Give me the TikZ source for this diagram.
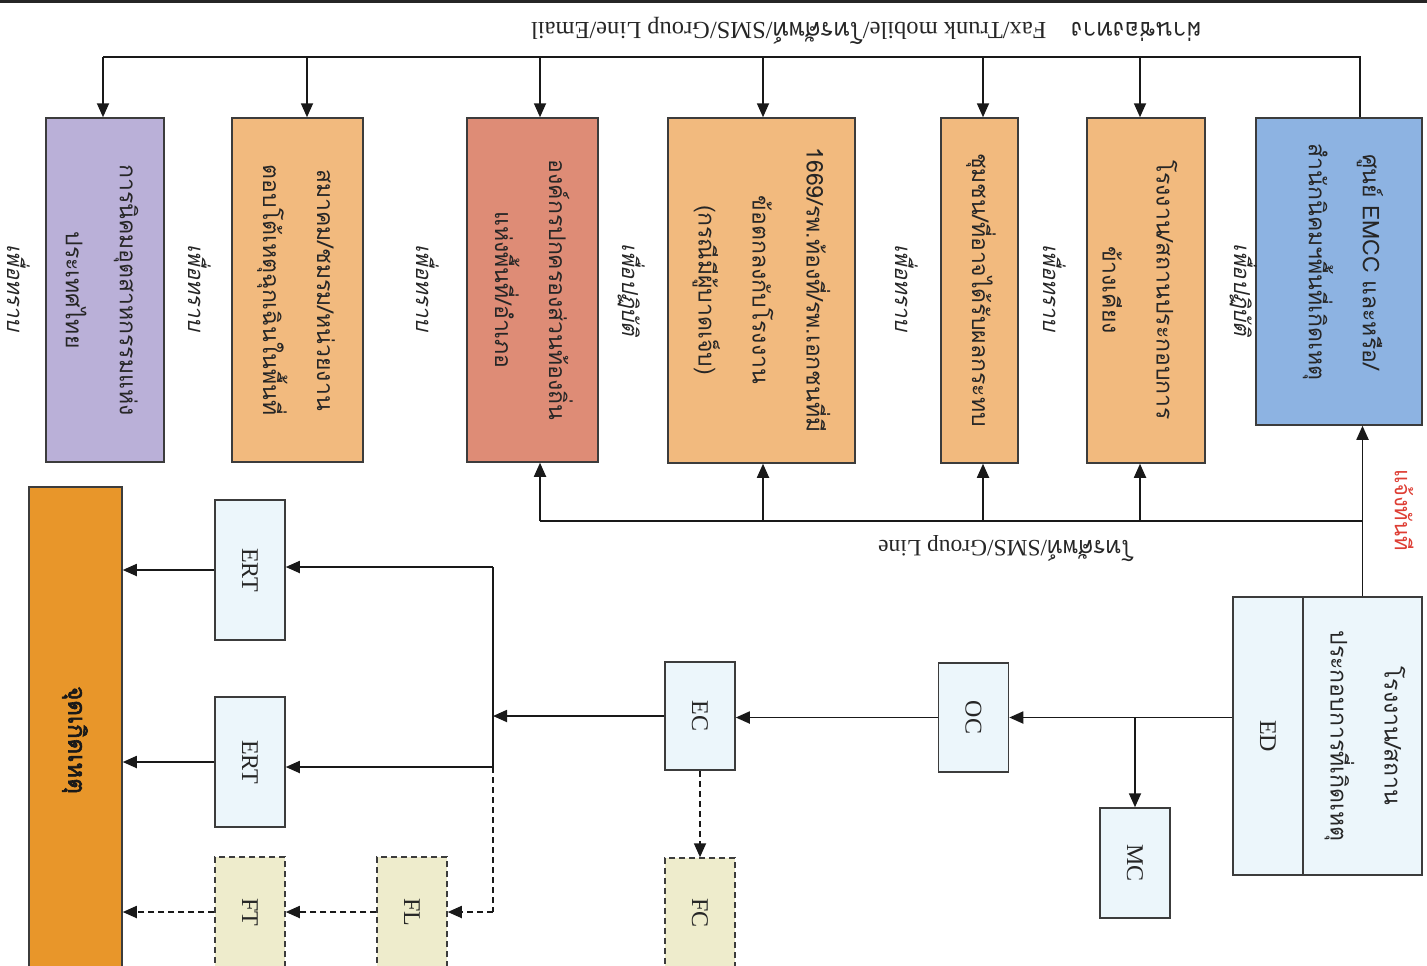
\documentclass[tikz,border=0pt]{standalone}
\usepackage{fontspec}
\setmainfont{Liberation Serif}
\newfontfamily\thai[Script=Thai]{Loma}
\newfontfamily\thaiit[Script=Thai,FakeSlant=0.22]{Loma}
\newfontfamily\thaibf[Script=Thai,FakeBold=2.5]{Loma}
\usetikzlibrary{arrows.meta}
\definecolor{cBlue}{RGB}{141,179,226}
\definecolor{cOrange}{RGB}{242,186,126}
\definecolor{cSalmon}{RGB}{222,140,118}
\definecolor{cPurple}{RGB}{186,176,216}
\definecolor{cLight}{RGB}{236,246,251}
\definecolor{cDash}{RGB}{238,236,204}
\definecolor{cInc}{RGB}{232,150,42}
\definecolor{cRedText}{RGB}{222,62,52}
\definecolor{cEdge}{RGB}{60,60,60}
\begin{document}
\begin{tikzpicture}[x=1pt,y=-1pt,
  box/.style={draw=cEdge,line width=1.5pt,inner sep=0pt},
  btxt/.style={rotate=-90,align=center,inner sep=1pt,
    font=\thai\fontsize{23}{54}\selectfont,text=black!85},
  sbox/.style={draw=cEdge,line width=1.5pt,inner sep=0pt,fill=cLight,minimum width=70pt},
  stxt/.style={rotate=-90,inner sep=1pt,font=\fontsize{24}{28}\selectfont,text=black!85},
  dbox/.style={sbox,fill=cDash,dash pattern=on 6pt off 4pt},
  lab/.style={font=\thaiit\fontsize{22}{26}\selectfont,text=black!85,rotate=-90,inner sep=1pt},
  ln/.style={line width=1.8pt,draw=black!90},
  arr/.style={ln,-{Triangle[length=14pt,width=12pt]}},
  darr/.style={arr,dash pattern=on 6pt off 4pt},
  dln/.style={ln,dash pattern=on 6pt off 4pt}]
\clip (0,0) rectangle (1427,966);
\useasboundingbox (0,0) rectangle (1427,966);
\fill[white] (0,0) rectangle (1427,966);
\fill[black!85] (0,0) rectangle (1427,3);

% upper row of boxes
\node[box,fill=cBlue,minimum width=166pt,minimum height=307pt] (emcc) at (1339,271.5) {};
\node[btxt] (emcct) at (1343,262) {ศูนย์ EMCC และหรือ/\\สำนักนิคมฯพื้นที่เกิดเหตุ};
\node[box,fill=cOrange,minimum width=118pt,minimum height=345pt] (b2) at (1146,290.5) {};
\node[btxt] (b2t) at (1140,290) {โรงงาน/สถานประกอบการ\\ข้างเคียง};
\node[box,fill=cOrange,minimum width=77pt,minimum height=345pt] (b3) at (979.5,290.5) {};
\node[btxt] (b3t) at (981,290) {ชุมชน/ที่อาจได้รับผลกระทบ};
\node[box,fill=cOrange,minimum width=187pt,minimum height=345pt] (b4) at (761.5,290.5) {};
\node[btxt] (b4t) at (761.5,290) {1669/รพ.ท้องที่/รพ.เอกชนที่มี\\ข้อตกลงกับโรงงาน\\(กรณีมีผู้บาดเจ็บ)};
\node[box,fill=cSalmon,minimum width=131pt,minimum height=344pt] (b5) at (532.5,290) {};
\node[btxt] (b5t) at (534,290) {องค์กรปกครองส่วนท้องถิ่น\\แห่งพื้นที่/อำเภอ};
\node[box,fill=cOrange,minimum width=131pt,minimum height=344pt] (b6) at (297.5,290) {};
\node[btxt] (b6t) at (296,290) {สมาคม/ชมรม/หน่วยงาน\\ตอบโต้เหตุฉุกเฉินในพื้นที่};
\node[box,fill=cPurple,minimum width=118pt,minimum height=344pt] (b7) at (105,290) {};
\node[btxt] (b7t) at (102,290) {การนิคมอุตสาหกรรมแห่ง\\ประเทศไทย};

% side labels
\node[lab] (l1) at (1244,290) {เพื่อปฏิบัติ};
\node[lab] (l2) at (1055,288) {เพื่อทราบ};
\node[lab] (l3) at (907,288) {เพื่อทราบ};
\node[lab] (l4) at (632,290) {เพื่อปฏิบัติ};
\node[lab] (l5) at (428,288) {เพื่อทราบ};
\node[lab] (l6) at (200,288) {เพื่อทราบ};
\node[lab] (l7) at (19,288) {เพื่อทราบ};

% top bus
\coordinate (tR) at (1360,57);
\coordinate (t2) at (1140,57);
\coordinate (t3) at (983,57);
\coordinate (t4) at (763,57);
\coordinate (t5) at (540,57);
\coordinate (t6) at (307,57);
\coordinate (tL) at (103,57);
\draw[ln] (emcc.north -| tR) -- (tR) -- (tL);
\foreach \t/\b in {t2/b2,t3/b3,t4/b4,t5/b5,t6/b6,tL/b7}
  \draw[arr] (\t) -- (\t |- \b.north);
\node[rotate=180,font=\fontsize{24.5}{28}\selectfont,text=black!85] (toplab) at (866,31)
  {{\thai ผ่านช่องทาง}\enspace\enspace Fax/Trunk mobile/{\thai โทรศัพท์}/SMS/Group Line/Email};

% ED box
\node[sbox,minimum width=70pt,minimum height=278pt] (edL) at (1268,736) {};
\node[stxt] (edLt) at (edL) {ED};
\node[box,fill=cLight,minimum width=119pt,minimum height=278pt] (edR) at (1362.5,736) {};
\node[btxt] (edRt) at (1365,736) {โรงงาน/สถาน\\ประกอบการที่เกิดเหตุ};

% lower bus
\draw[arr] (edR.north) -- (edR.north |- emcc.south);
\coordinate (bR) at (1362.5,521);
\coordinate (u2) at (1140,521);
\coordinate (u3) at (983,521);
\coordinate (u4) at (763,521);
\coordinate (bL) at (540,521);
\draw[ln] (bR) -- (bL);
\foreach \u/\b in {u2/b2,u3/b3,u4/b4,bL/b5}
  \draw[arr] (\u) -- (\u |- \b.south);
\node[rotate=180,font=\fontsize{23.5}{28}\selectfont,text=black!85] (botlab) at (1006,549)
  {{\thai โทรศัพท์}/SMS/Group Line};
\node[rotate=-90,font=\thai\fontsize{22}{26}\selectfont,text=cRedText] (now) at (1404,510) {แจ้งทันที};

% response chain
\node[sbox,minimum height=109pt] (oc) at (973.5,717.5) {};
\node[stxt] (oct) at (oc) {OC};
\node[sbox,minimum height=110pt] (mc) at (1135,863) {};
\node[stxt] (mct) at (mc) {MC};
\node[sbox,minimum height=108pt] (ec) at (700,716) {};
\node[stxt] (ect) at (ec) {EC};
\node[dbox,minimum height=110pt] (fc) at (700,913) {};
\node[stxt] (fct) at (fc) {FC};
\node[sbox,minimum height=140pt] (ert1) at (250,570) {};
\node[stxt] (ert1t) at (ert1) {ERT};
\node[sbox,minimum height=130pt] (ert2) at (250,762) {};
\node[stxt] (ert2t) at (ert2) {ERT};
\node[dbox,minimum height=110pt] (fl) at (412,912) {};
\node[stxt] (flt) at (fl) {FL};
\node[dbox,minimum height=110pt] (ft) at (250,912) {};
\node[stxt] (ftt) at (ft) {FT};
\node[draw=cEdge,line width=1.5pt,fill=cInc,minimum width=93pt,minimum height=520pt,
  inner sep=0pt] (inc) at (75.5,747) {};
\node[rotate=-90,inner sep=1pt,font=\thaibf\fontsize{24}{28}\selectfont,text=black!90] (inct)
  at (75,740) {จุดเกิดเหตุ};

\draw[arr] (oc.east -| edL.west) -- (oc.east);
\draw[arr] (mc.north |- oc.east) -- (mc.north);
\draw[arr] (oc.west) -- (oc.west -| ec.east);
\coordinate (j0) at (493,716);
\coordinate (j1) at (493,567);
\coordinate (j2) at (493,767);
\coordinate (j3) at (493,912);
\draw[arr] (ec.west) -- (j0);
\draw[ln] (j1) -- (j2);
\draw[arr] (j1) -- (j1 -| ert1.east);
\draw[arr] (j2) -- (j2 -| ert2.east);
\draw[dln] (j2) -- (j3);
\draw[darr] (j3) -- (j3 -| fl.east);
\draw[arr] (ert1.west) -- (ert1.west -| inc.east);
\draw[arr] (ert2.west) -- (ert2.west -| inc.east);
\draw[darr] (fl.west) -- (fl.west -| ft.east);
\draw[darr] (ft.west) -- (ft.west -| inc.east);
\draw[darr] (ec.south) -- (ec.south |- fc.north);
\end{tikzpicture}
\end{document}
